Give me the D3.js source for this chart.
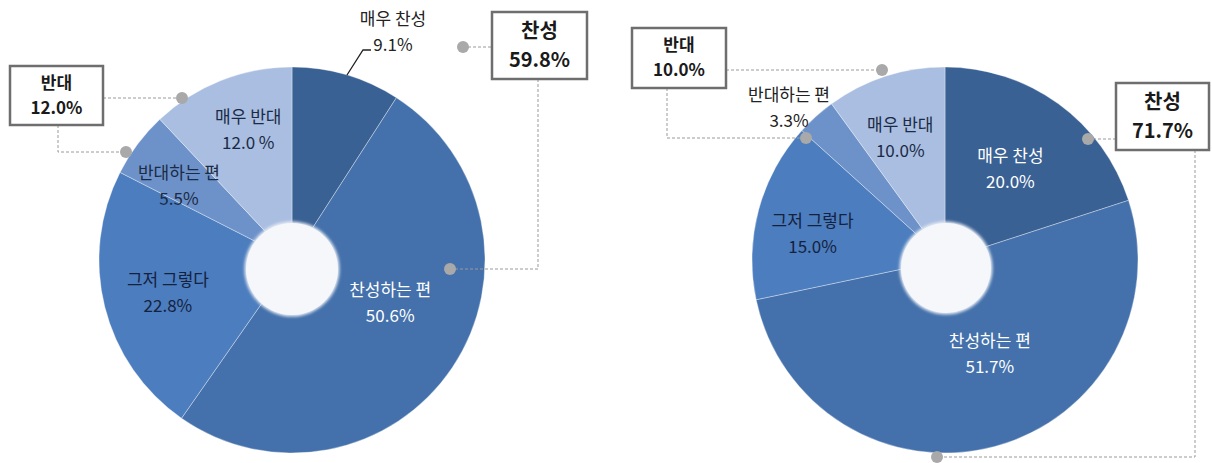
<!DOCTYPE html>
<html>
<head>
<meta charset="utf-8">
<script src="https://cdn.jsdelivr.net/npm/d3@7"></script>
<style>
  html, body { margin: 0; padding: 0; background: #ffffff; }
  svg { display: block; }
  text { font-family: "Noto Sans CJK KR", "Noto Sans", sans-serif; }
</style>
</head>
<body>
<svg id="chart" width="1212" height="463"></svg>
<script>
// ---------------- DATA ----------------
const categories = ["매우 찬성", "찬성하는 편", "그저 그렇다", "반대하는 편", "매우 반대"];
const valuesLeft  = [9.1, 50.6, 22.8, 5.5, 12.0];
const valuesRight = [20.0, 51.7, 15.0, 3.3, 10.0];
const valueLabelsLeft  = ["9.1%", "50.6%", "22.8%", "5.5%", "12.0 %"];
const valueLabelsRight = ["20.0%", "51.7%", "15.0%", "3.3%", "10.0%"];
const summaryLabels = ["찬성", "반대"];
const summaryLeft  = [59.8, 12.0];
const summaryRight = [71.7, 10.0];

// ---------------- STYLE / LAYOUT ----------------
const colors = ["#3a6194", "#4471ab", "#4c7dbe", "#6d92ca", "#a9bee1"];
const textColors = [
  ["#222", "#ffffff", "#14223f", "#1b2a45", "#1b2a45"],
  ["#ffffff", "#ffffff", "#14223f", "#222", "#1b2a45"]
];
const svg = d3.select("#chart");
const defs = svg.append("defs");
const f = defs.append("filter").attr("id", "soft").attr("x", "-20%").attr("y", "-20%").attr("width", "140%").attr("height", "140%");
f.append("feGaussianBlur").attr("stdDeviation", 1.6);

const charts = [
  {
    values: valuesLeft, vlabels: valueLabelsLeft, summary: summaryLeft, tc: textColors[0],
    cx: 292, cy: 260, R: 193, hole: {dx: 0, dy: 9, r: 46},
    nudges: [null, [-14, -32], [7, 0], [-5, 7], [6, -4]],
    outside: {0: {x: 393, y: 32, leader: [[347, 75], [363, 50], [371, 50]]}},
    boxes: [
      {i: 0, x: 492, y: 12, w: 95, h: 67, fs: 20, gap: 29},
      {i: 1, x: 10, y: 66, w: 93, h: 59, fs: 17, gap: 25}
    ],
    dots: [[463, 47], [450, 269], [182, 98], [126, 152]],
    lines: [
      [[463, 47], [492, 47]],
      [[538, 79], [538, 269], [450, 269]],
      [[103, 98], [182, 98]],
      [[58, 125], [58, 152], [126, 152]]
    ]
  },
  {
    values: valuesRight, vlabels: valueLabelsRight, summary: summaryRight, tc: textColors[1],
    cx: 945, cy: 260, R: 193, hole: {dx: 1, dy: 8, r: 45},
    nudges: [[-14, 18], [10, -37], [-2, 9], null, [-3, 6]],
    outside: {3: {x: 789, y: 108, leader: null}},
    boxes: [
      {i: 0, x: 1116, y: 83, w: 93, h: 67, fs: 20, gap: 29},
      {i: 1, x: 632, y: 28, w: 94, h: 60, fs: 17, gap: 25}
    ],
    dots: [[1088, 139], [937, 457], [882, 70], [806, 138]],
    lines: [
      [[1088, 139], [1116, 139]],
      [[1195, 150], [1195, 457], [937, 457]],
      [[726, 70], [882, 70]],
      [[667, 88], [667, 138], [806, 138]]
    ]
  }
];

const pie = d3.pie().sort(null).value(d => d);

charts.forEach(c => {
  const g = svg.append("g").attr("transform", `translate(${c.cx},${c.cy})`);
  const arcs = pie(c.values);
  const arc = d3.arc().innerRadius(0).outerRadius(c.R);
  const labelArc = d3.arc().innerRadius(c.R * 0.7).outerRadius(c.R * 0.7);

  g.selectAll("path.slice").data(arcs).enter().append("path")
    .attr("class", "slice")
    .attr("d", arc)
    .attr("fill", (d, i) => colors[i])
    .attr("stroke", "rgba(255,255,255,0.35)")
    .attr("stroke-width", 1);

  // hole
  g.append("circle")
    .attr("cx", c.hole.dx).attr("cy", c.hole.dy).attr("r", c.hole.r + 1.5)
    .attr("fill", "#e8edf5").attr("filter", "url(#soft)");
  g.append("circle")
    .attr("cx", c.hole.dx).attr("cy", c.hole.dy).attr("r", c.hole.r)
    .attr("fill", "#f6f7fa");

  // labels
  arcs.forEach((d, i) => {
    let x, y;
    const out = c.outside[i];
    if (out) {
      x = out.x - c.cx; y = out.y - c.cy;
    } else {
      const p = labelArc.centroid(d);
      x = p[0] + c.nudges[i][0]; y = p[1] + c.nudges[i][1];
    }
    const col = out ? "#222" : c.tc[i];
    g.append("text").attr("text-anchor", "middle").attr("font-size", 17)
      .attr("fill", col).attr("x", x).attr("y", y - 7).text(categories[i]);
    g.append("text").attr("text-anchor", "middle").attr("font-size", 17)
      .attr("fill", col).attr("x", x).attr("y", y + 19).text(c.vlabels[i]);
    if (out && out.leader) {
      svg.append("polyline")
        .attr("points", out.leader.map(p => p.join(",")).join(" "))
        .attr("fill", "none").attr("stroke", "#222").attr("stroke-width", 1.3);
    }
  });

  // connectors
  c.lines.forEach(l => {
    svg.append("polyline")
      .attr("points", l.map(p => p.join(",")).join(" "))
      .attr("fill", "none").attr("stroke", "#9a9a9a").attr("stroke-width", 1)
      .attr("stroke-dasharray", "3,2");
  });
  c.dots.forEach(p => {
    svg.append("circle").attr("cx", p[0]).attr("cy", p[1]).attr("r", 6)
      .attr("fill", "#a9a9a9");
  });

  // summary boxes
  c.boxes.forEach(b => {
    svg.append("rect").attr("x", b.x).attr("y", b.y).attr("width", b.w).attr("height", b.h)
      .attr("fill", "#fff").attr("stroke", "#6e6e6e").attr("stroke-width", 2.5);
    const mx = b.x + b.w / 2;
    const top = b.y + b.h / 2 - b.gap / 2 + b.fs * 0.33;
    svg.append("text").attr("text-anchor", "middle")
      .attr("font-size", b.fs).attr("font-weight", "bold").attr("fill", "#1a1a1a")
      .attr("x", mx).attr("y", top).text(summaryLabels[b.i]);
    svg.append("text").attr("text-anchor", "middle")
      .attr("font-size", b.fs).attr("font-weight", "bold").attr("fill", "#1a1a1a")
      .attr("x", mx).attr("y", top + b.gap).text(c.summary[b.i].toFixed(1) + "%");
  });
});
</script>
</body>
</html>
